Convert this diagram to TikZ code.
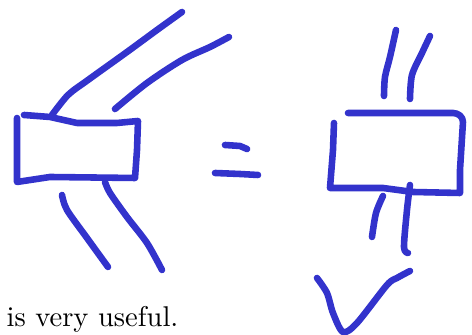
\documentclass[tikz,border=0pt]{standalone}
\usepackage{tikz}
\usetikzlibrary{positioning, calc}
\definecolor{InkBlue}{RGB}{51,51,204}

\tikzset{
    pen/.style={InkBlue, line width=2.3pt, line cap=round, line join=round},
}

\begin{document}
\begin{tikzpicture}[x=0.35pt, y=-0.35pt]
                \useasboundingbox (0,0) rectangle (472,335);
                % Caja izquierda
                \draw[pen] (17,118) -- (17,182) -- (50,177) -- (135,178) -- (137,150) -- (138,121) -- (117,123) -- (77,123) -- (50,117) -- (24,115);
                \draw[pen] plot[smooth] coordinates {(52,115) (68,95) (88,80) (127,52) (157,30) (182,12)};
                \draw[pen] plot[smooth] coordinates {(115,109) (147,83) (182,60) (210,47) (229,37)};
                \draw[pen] plot[smooth] coordinates {(62,195) (67,210) (87,238) (108,267)};
                \draw[pen] plot[smooth] coordinates {(105,182) (110,193) (127,217) (147,243) (162,270)};
                
                % Igual
                \draw[pen] (225,145) -- (240,146) -- (247,149);
                \draw[pen] (215,173) -- (240,174) -- (258,175);
                
                % Caja derecha
                \draw[pen] (348,113) -- (453,113) to[out=0, in=90] (463,122) -- (460,170) -- (460,193) -- (413,192) -- (383,188) -- (330,188) -- (333,150) -- (334,123);
                \draw[pen] plot[smooth] coordinates {(396,30) (390,57) (385,77) (384,96)};
                \draw[pen] plot[smooth] coordinates {(430,36) (422,53) (412,75) (410,99)};
                \draw[pen] plot[smooth] coordinates {(383,196) (376,213) (372,237)};
                \draw[pen] plot[smooth] coordinates {(410,185) (407,210) (404,247) (408,253)};
                \draw[pen] plot[smooth] coordinates {(317,278) (327,293) (333,313) (343,332) (357,323) (387,285) (397,278) (410,271)};
                
                % Texto
                \node[anchor=base west, inner sep=0pt] (nota) at (6,327) {is very useful.};
\end{tikzpicture}
\end{document}
